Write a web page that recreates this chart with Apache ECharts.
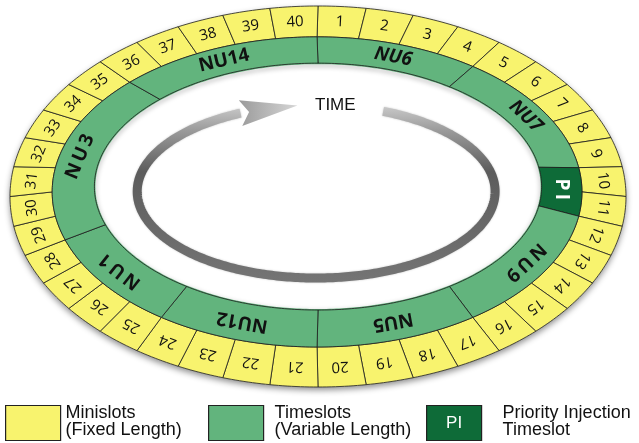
<!DOCTYPE html>
<html>
<head>
<meta charset="utf-8">
<script src="https://cdn.jsdelivr.net/npm/echarts@6/dist/echarts.min.js"></script>
<style>
  html, body { margin: 0; padding: 0; background: #fff; }
  #chart { width: 639px; height: 443px; }
</style>
</head>
<body>
<div id="chart"></div>
<script>
// ring data: minislots are fixed, timeslots span a number of minislots
const minislotLabels = ['1', '2', '3', '4', '5', '6', '7', '8', '9', '10',
  '11', '12', '13', '14', '15', '16', '17', '18', '19', '20',
  '21', '22', '23', '24', '25', '26', '27', '28', '29', '30',
  '31', '32', '33', '34', '35', '36', '37', '38', '39', '40'];
const timeslotNames = ['NU6', 'NU7', 'PI', 'NU9', 'NU5', 'NU12', 'NU1', 'NU3', 'NU14'];
const timeslotStart = [0, 4, 9, 11, 16, 20, 24, 28, 35];
const timeslotEnd = [4, 9, 11, 16, 20, 24, 28, 35, 40];
const legendLabels = ['Minislots\n(Fixed Length)', 'Timeslots\n(Variable Length)', 'Priority Injection\nTimeslot'];
const arrowLabel = 'TIME';

const SLOT_COUNT = 40;
// ellipses in axis units; the outer one is the unit circle, stretched by the grid
const OUTER = { cx: 0, cy: 0, rx: 1, ry: 1 };
const MID = { cx: -0.003, cy: 0.024, rx: 0.86, ry: 0.814 };
const INNER = { cx: 0, cy: 0.052, rx: 0.726, ry: 0.648 };
const ARROW = { cx: -0.006, cy: 0.026, rx: 0.581, ry: 0.454 };
const ARROW_TAIL = 22, ARROW_BASE = 335, ARROW_TIP = 354; // degrees, clockwise from top

const YELLOW = '#f8f36e';
const GREEN = '#62b47d';
const DARK_GREEN = '#0e6b38';
const LINE = '#1c1c1c';
const italicSlots = ['NU6', 'NU7'];
const spacedSlots = ['NU3', 'NU1', 'NU9', 'PI'];

function angleOf(slot) {
  return slot / SLOT_COUNT * Math.PI * 2;
}

function pt(api, e, t) {
  return api.coord([e.cx + e.rx * Math.sin(t), e.cy + e.ry * Math.cos(t)]);
}

function arc(api, e, t0, t1) {
  const steps = Math.max(4, Math.ceil(Math.abs(t1 - t0) / 0.015));
  const out = [];
  for (let k = 0; k <= steps; k++) {
    out.push(pt(api, e, t0 + (t1 - t0) * k / steps));
  }
  return out;
}

function sector(api, eOut, eIn, t0, t1) {
  return arc(api, eOut, t0, t1).concat(arc(api, eIn, t1, t0));
}

function between(a, b, f) {
  return {
    cx: a.cx + (b.cx - a.cx) * f, cy: a.cy + (b.cy - a.cy) * f,
    rx: a.rx + (b.rx - a.rx) * f, ry: a.ry + (b.ry - a.ry) * f,
  };
}

function labelPlace(api, e, t) {
  const p = pt(api, e, t);
  const a = pt(api, e, t - 0.01);
  const b = pt(api, e, t + 0.01);
  return { x: p[0], y: p[1], rotation: -Math.atan2(b[1] - a[1], b[0] - a[0]) };
}

const chart = echarts.init(document.getElementById('chart'));

const option = {
  animation: false,
  grid: { left: 10, top: 6, width: 616, height: 381 },
  xAxis: { type: 'value', min: -1, max: 1, show: false },
  yAxis: { type: 'value', min: -1, max: 1, show: false },
  graphic: [
    {
      type: 'text', left: 315, top: 97, z: 10,
      style: { text: arrowLabel, font: '17px "Liberation Sans"', fill: '#111' },
    },
    ...legendLabels.map((lab, i) => ({
      type: 'group',
      left: [5, 208, 426][i],
      top: 404,
      children: [
        {
          type: 'rect', shape: { x: 0, y: 0, width: 55, height: 35 },
          style: { fill: [YELLOW, GREEN, DARK_GREEN][i], stroke: '#222', lineWidth: 1.2 },
        },
        {
          type: 'text', x: [60, 66, 76][i], y: -1,
          style: { text: lab, font: '18px "Liberation Sans"', lineHeight: 17, fill: '#111' },
        },
        ...(i === 2 ? [{
          type: 'text', x: 27.5, y: 18,
          style: { text: 'PI', font: '17px "Liberation Sans"', fill: '#fff', align: 'center', verticalAlign: 'middle' },
        }] : []),
      ],
    })),
  ],
  series: [
    {
      // drop shadow under the whole ring
      type: 'custom',
      z: 1,
      silent: true,
      data: [[0, SLOT_COUNT]],
      renderItem(params, api) {
        return {
          type: 'polygon',
          shape: { points: arc(api, OUTER, 0, Math.PI * 2) },
          style: { fill: '#fff', shadowBlur: 6, shadowOffsetY: 3, shadowColor: 'rgba(0,0,0,0.45)' },
        };
      },
    },
    {
      // shadow thrown inward by the timeslot ring
      type: 'custom',
      z: 2,
      silent: true,
      data: [[0, SLOT_COUNT]],
      renderItem(params, api) {
        return {
          type: 'polyline',
          shape: { points: arc(api, INNER, 0, Math.PI * 2) },
          style: { stroke: GREEN, lineWidth: 2, fill: null, shadowBlur: 5, shadowOffsetY: 2, shadowColor: 'rgba(0,0,0,0.4)' },
        };
      },
    },
    {
      name: 'Minislots',
      type: 'custom',
      z: 3,
      silent: true,
      data: minislotLabels.map((lab, i) => [i, i + 1]),
      renderItem(params, api) {
        const t0 = angleOf(api.value(0));
        const t1 = angleOf(api.value(1));
        const lp = labelPlace(api, between(OUTER, MID, 0.5), (t0 + t1) / 2);
        return {
          type: 'group',
          children: [
            {
              type: 'polygon',
              shape: { points: sector(api, OUTER, MID, t0, t1) },
              style: { fill: YELLOW, stroke: LINE, lineWidth: 0.8 },
            },
            {
              type: 'text', x: lp.x, y: lp.y, rotation: lp.rotation,
              style: {
                text: minislotLabels[params.dataIndex], fill: '#111',
                font: '15px "Open Sans"', align: 'center', verticalAlign: 'middle',
              },
            },
          ],
        };
      },
    },
    {
      name: 'Timeslots',
      type: 'custom',
      z: 3,
      silent: true,
      data: timeslotStart.map((s, i) => [s, timeslotEnd[i]]),
      renderItem(params, api) {
        const t0 = angleOf(api.value(0));
        const t1 = angleOf(api.value(1));
        const name = timeslotNames[params.dataIndex];
        const isPI = name === 'PI';
        const lp = labelPlace(api, between(MID, INNER, 0.5), (t0 + t1) / 2);
        const shown = spacedSlots.includes(name) ? name.split('').join('\u2009') : name;
        return {
          type: 'group',
          children: [
            {
              type: 'polygon',
              shape: { points: sector(api, MID, INNER, t0, t1) },
              style: { fill: isPI ? DARK_GREEN : GREEN, stroke: LINE, lineWidth: 0.8 },
            },
            {
              type: 'text', x: lp.x, y: lp.y, rotation: lp.rotation,
              style: {
                text: shown, fill: isPI ? '#fff' : '#111',
                font: (italicSlots.includes(name) ? 'italic ' : '') + 'bold 19px "Open Sans"',
                align: 'center', verticalAlign: 'middle',
              },
            },
          ],
        };
      },
    },
    {
      // the TIME arrow inside the ring
      type: 'custom',
      z: 4,
      silent: true,
      data: [[ARROW_TAIL, ARROW_BASE]],
      renderItem(params, api) {
        const t0 = api.value(0) * Math.PI / 180;
        const t1 = api.value(1) * Math.PI / 180;
        const top = pt(api, ARROW, 0)[1];
        const bottom = pt(api, ARROW, Math.PI)[1];
        const base = pt(api, ARROW, t1);
        const tip = pt(api, ARROW, ARROW_TIP * Math.PI / 180);
        const dx = tip[0] - base[0], dy = tip[1] - base[1];
        const len = Math.hypot(dx, dy);
        const nx = -dy / len * 13, ny = dx / len * 13;
        return {
          type: 'group',
          children: [
            {
              type: 'polyline',
              shape: { points: arc(api, ARROW, t0, t1) },
              style: {
                fill: null, lineWidth: 9,
                stroke: new echarts.graphic.LinearGradient(0, top - 8, 0, bottom + 6, [
                  { offset: 0, color: '#dadada' },
                  { offset: 0.18, color: '#9a9a9a' },
                  { offset: 0.4, color: '#5c5c5c' },
                  { offset: 1, color: '#757575' },
                ], true),
                shadowBlur: 2, shadowColor: 'rgba(0,0,0,0.25)',
              },
            },
            {
              type: 'polygon',
              shape: { points: [[base[0] + nx, base[1] + ny], tip, [base[0] - nx, base[1] - ny], [base[0] + dx * 0.15, base[1] + dy * 0.15]] },
              style: {
                fill: new echarts.graphic.LinearGradient(base[0], 0, tip[0], 0, [
                  { offset: 0, color: '#9c9c9c' },
                  { offset: 1, color: '#d6d6d6' },
                ], true),
              },
            },
          ],
        };
      },
    },
  ],
};

chart.setOption(option);
</script>
</body>
</html>
